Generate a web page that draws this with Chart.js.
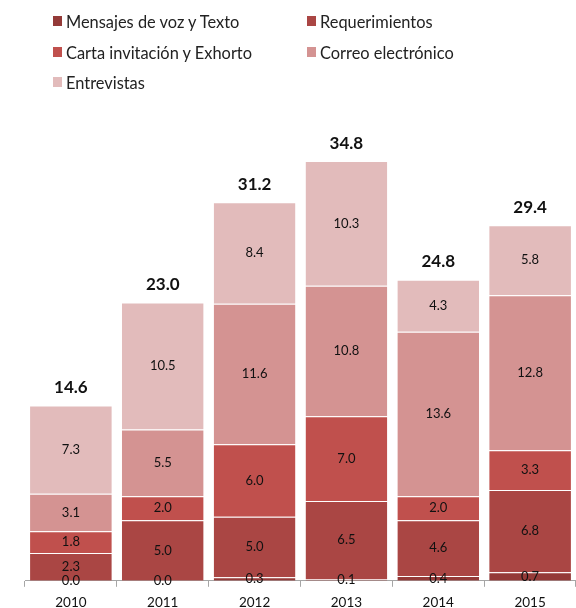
<!DOCTYPE html>
<html>
<head>
<meta charset="utf-8">
<script src="https://cdn.jsdelivr.net/npm/chart.js@4"></script>
<style>
  html, body { margin: 0; padding: 0; background: #fff; overflow: hidden; }
  #wrap { position: relative; width: 576px; height: 608px; overflow: hidden; }
  #legend { position: absolute; left: 0; top: 0; width: 576px; font-family: Lato, sans-serif; font-size: 16.4px; color: #222; }
  .item { position: absolute; display: flex; align-items: center; white-space: nowrap; }
  .item span.box { display: inline-block; width: 9px; height: 10px; margin-right: 4px; }
</style>
</head>
<body>
<div id="wrap">
  <canvas id="chart-fiscal" width="576" height="619"></canvas>
  <div id="legend"></div>
</div>
<script>
var years = ['2010', '2011', '2012', '2013', '2014', '2015'];

var mensajes = [0.0, 0.0, 0.3, 0.1, 0.4, 0.7];
var requerimientos = [2.3, 5.0, 5.0, 6.5, 4.6, 6.8];
var cartas = [1.8, 2.0, 6.0, 7.0, 2.0, 3.3];
var correo = [3.1, 5.5, 11.6, 10.8, 13.6, 12.8];
var entrevistas = [7.3, 10.5, 8.4, 10.3, 4.3, 5.8];
var totales = [14.6, 23.0, 31.2, 34.8, 24.8, 29.4];

var seriesNames = ['Mensajes de voz y Texto', 'Requerimientos', 'Carta invitación y Exhorto', 'Correo electrónico', 'Entrevistas'];
var seriesColors = ['#943a38', '#aa4644', '#c0504d', '#d49392', '#e2bbbb'];
var seriesData = [mensajes, requerimientos, cartas, correo, entrevistas];

// legend in two columns, like the original
var legendPos = [[53, 21], [307, 21], [53, 52], [307, 52], [53, 82]];
var legendEl = document.getElementById('legend');
seriesNames.forEach(function (name, i) {
    var div = document.createElement('div');
    div.className = 'item';
    div.style.left = legendPos[i][0] + 'px';
    div.style.top = (legendPos[i][1] - 11) + 'px';
    div.style.height = '22px';
    div.innerHTML = '<span class="box" style="background:' + seriesColors[i] + '"></span>' + name;
    legendEl.appendChild(div);
});

var valueLabels = {
    id: 'valueLabels',
    afterDatasetsDraw: function (chart) {
        var ctx = chart.ctx;
        ctx.save();
        ctx.textAlign = 'center';
        ctx.textBaseline = 'middle';
        ctx.fillStyle = '#111';
        ctx.font = '13px Lato, sans-serif';
        chart.data.datasets.forEach(function (ds, di) {
            var meta = chart.getDatasetMeta(di);
            meta.data.forEach(function (bar, i) {
                var yMid = (bar.y + bar.base) / 2;
                ctx.fillText(ds.data[i].toFixed(1), bar.x, yMid);
            });
        });
        // totals above each stack
        var topMeta = chart.getDatasetMeta(chart.data.datasets.length - 1);
        ctx.font = 'bold 17px Lato, sans-serif';
        topMeta.data.forEach(function (bar, i) {
            ctx.fillText(totales[i].toFixed(1), bar.x, bar.y - 18);
        });
        ctx.restore();
    }
};

var ctxFiscal = document.getElementById('chart-fiscal').getContext('2d');
var chartFiscal = new Chart(ctxFiscal, {
    type: 'bar',
    data: {
        labels: years,
        datasets: seriesData.map(function (d, i) {
            return {
                label: seriesNames[i],
                data: d,
                backgroundColor: seriesColors[i],
                borderColor: 'rgba(255,255,255,0.45)',
                borderWidth: { top: 1, left: 0, right: 0, bottom: 0 },
                borderSkipped: false,
                barPercentage: 0.89,
                categoryPercentage: 1.0
            };
        })
    },
    options: {
        responsive: false,
        animation: false,
        layout: { padding: { left: 25, right: 0, top: 97, bottom: 0 } },
        plugins: {
            legend: { display: false },
            tooltip: { enabled: false }
        },
        scales: {
            x: {
                stacked: true,
                offset: true,
                border: { display: true, color: '#a6a6a6' },
                grid: { display: true, drawOnChartArea: false, drawTicks: true, tickLength: 6, color: '#a6a6a6', offset: true },
                ticks: { color: '#111', font: { family: 'Lato, sans-serif', size: 13.5 }, padding: 8 }
            },
            y: {
                stacked: true,
                display: false,
                min: 0,
                max: 40
            }
        }
    },
    plugins: [valueLabels]
});
</script>
</body>
</html>
